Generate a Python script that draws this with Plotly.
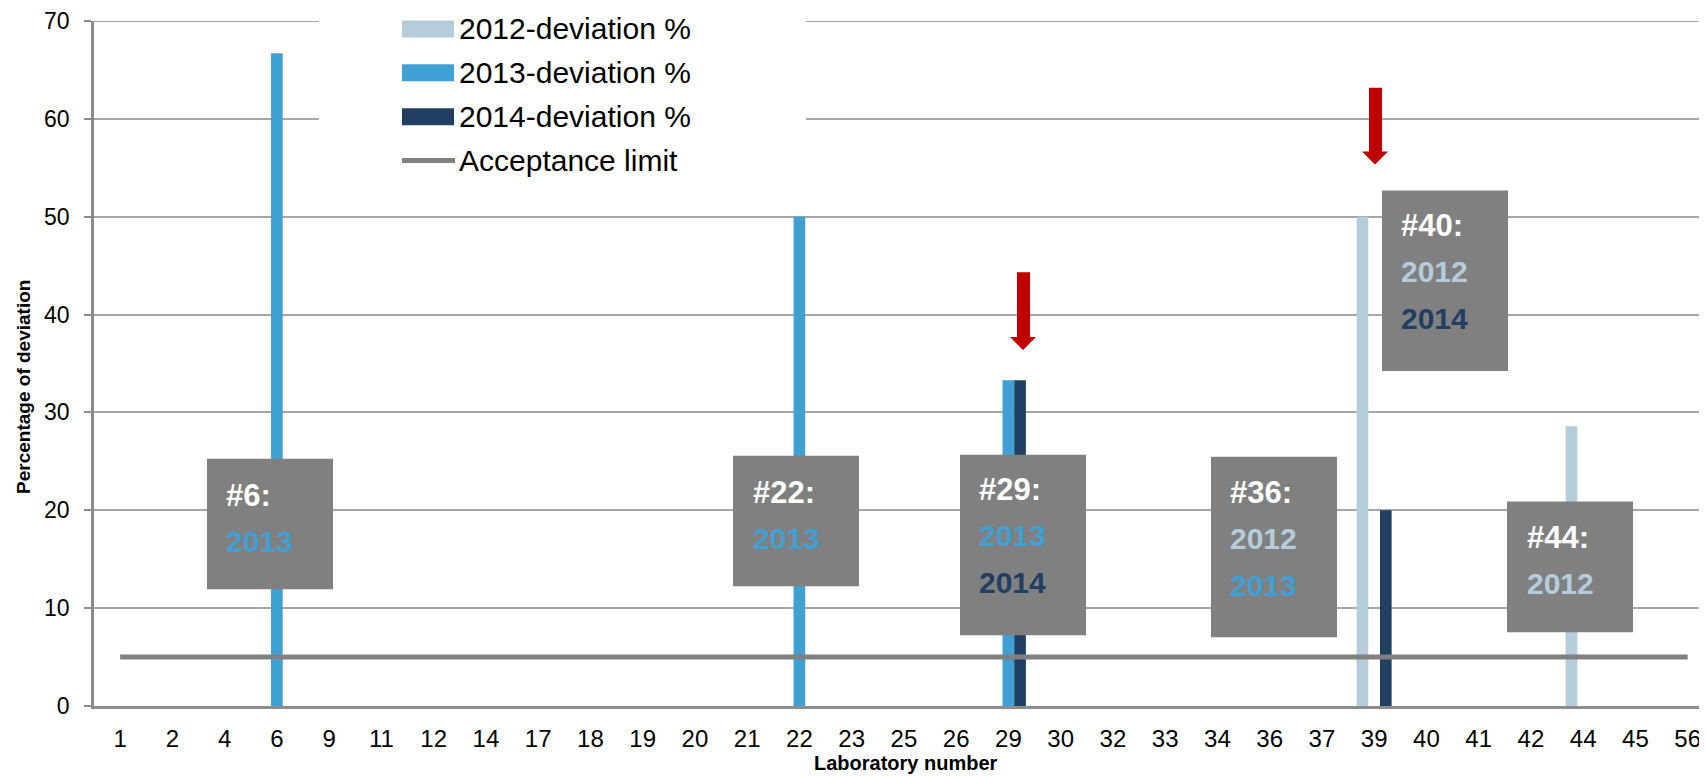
import plotly.graph_objects as go

# ---------------- data ----------------
labs = ["1", "2", "4", "6", "9", "11", "12", "14", "17", "18", "19", "20", "21", "22",
        "23", "25", "26", "29", "30", "32", "33", "34", "36", "37", "39", "40", "41",
        "42", "44", "45", "56"]
dev_2012 = [0, 0, 0, 0, 0, 0, 0, 0, 0, 0, 0, 0, 0, 0, 0, 0, 0, 0, 0, 0, 0, 0, 0, 0,
            50, 0, 0, 0, 28.6, 0, 0]
dev_2013 = [0, 0, 0, 66.7, 0, 0, 0, 0, 0, 0, 0, 0, 0, 50, 0, 0, 0, 33.3, 0, 0, 0, 0,
            0, 0, 0, 0, 0, 0, 0, 0, 0]
dev_2014 = [0, 0, 0, 0, 0, 0, 0, 0, 0, 0, 0, 0, 0, 0, 0, 0, 0, 33.3, 0, 0, 0, 0, 0,
            0, 20, 0, 0, 0, 0, 0, 0]
acceptance_limit = [5] * len(labs)

series_names = ["2012-deviation %", "2013-deviation %", "2014-deviation %", "Acceptance limit"]
y_ticks = [0, 10, 20, 30, 40, 50, 60, 70]

# callout boxes: (title, [years])
callouts = [
    ("#6:", ["2013"]),
    ("#22:", ["2013"]),
    ("#29:", ["2013", "2014"]),
    ("#36:", ["2012", "2013"]),
    ("#40:", ["2012", "2014"]),
    ("#44:", ["2012"]),
]

# ---------------- styles ----------------
C2012 = "#B5CDDA"
C2013 = "#409FD3"
C2014 = "#213F63"
GREY = "#808080"
year_color = {"2012": C2012, "2013": C2013, "2014": C2014}
FONT = "Liberation Sans, Arial, sans-serif"

OFF = 8  # page body margin
W, H = 1707 - OFF, 776 - OFF
ML, MR, MT, MB = 94 - OFF, 0, 19 - OFF, 70
PW = W - ML - MR
PH = H - MT - MB


def px(x):
    return (x - OFF - ML) / PW


def py(y):
    return (H - MB - (y - OFF)) / PH


fig = go.Figure()
for vals, col, name in [(dev_2012, C2012, series_names[0]),
                        (dev_2013, C2013, series_names[1]),
                        (dev_2014, C2014, series_names[2])]:
    fig.add_trace(go.Bar(x=labs, y=vals, name=name, marker=dict(color=col, line=dict(width=0)),
                         showlegend=False))

fig.add_trace(go.Scatter(x=labs, y=acceptance_limit, mode="lines", name=series_names[3],
                         line=dict(color=GREY, width=5), showlegend=False))

shapes = []
annotations = []

# top gridline (at 70)
shapes.append(dict(type="line", xref="paper", yref="y", x0=0, x1=1, y0=y_ticks[-1], y1=y_ticks[-1],
                   line=dict(color="#A6A6A6", width=2), layer="below"))

# legend (manual) with white background
shapes.append(dict(type="rect", xref="paper", yref="paper", x0=px(319), x1=px(806),
                   y0=py(182), y1=py(OFF), fillcolor="white", line=dict(width=0), layer="above"))
rows = [27, 71, 115, 159]
for i, (col, name) in enumerate(zip([C2012, C2013, C2014], series_names[:3])):
    shapes.append(dict(type="rect", xref="paper", yref="paper", x0=px(402), x1=px(454),
                       y0=py(rows[i] + 8.5), y1=py(rows[i] - 8.5), fillcolor=col,
                       line=dict(width=0), layer="above"))
shapes.append(dict(type="line", xref="paper", yref="paper", x0=px(402), x1=px(455),
                   y0=py(rows[3]), y1=py(rows[3]), line=dict(color=GREY, width=5), layer="above"))
for i, name in enumerate(series_names):
    annotations.append(dict(xref="paper", yref="paper", x=px(457), y=py(rows[i]),
                            text=name, showarrow=False, xanchor="left", yanchor="middle",
                            font=dict(family=FONT, size=30, color="black")))

# callout boxes: (x0, x1, y0, y1, text_left, first_line_center)
box_geom = [
    (207, 333, 458, 589, 226, 495),
    (733, 859, 455, 586, 753, 492),
    (960, 1086, 454, 635, 979, 489),
    (1211, 1337, 456, 637, 1230, 492),
    (1382, 1508, 189, 370, 1401, 224),
    (1507, 1633, 501, 632, 1527, 537),
]
LINE_STEP = 46.5
for (title, years), (x0, x1, y0, y1, tx, ty) in zip(callouts, box_geom):
    shapes.append(dict(type="rect", xref="paper", yref="paper", x0=px(x0), x1=px(x1),
                       y0=py(y1), y1=py(y0), fillcolor=GREY, line=dict(width=0), layer="above"))
    annotations.append(dict(xref="paper", yref="paper", x=px(tx - 2), y=py(ty), text=title,
                            showarrow=False, xanchor="left", yanchor="middle",
                            font=dict(family=FONT, size=31, color="white", weight="bold")))
    for j, yr in enumerate(years):
        annotations.append(dict(xref="paper", yref="paper", x=px(tx - 2), y=py(ty + (j + 1) * LINE_STEP),
                                text=yr, showarrow=False, xanchor="left", yanchor="middle",
                                font=dict(family=FONT, size=30, color=year_color[yr], weight="bold")))

# red arrows
for (sx0, sx1, top, head_y, tip_y, hx0, hx1) in [(1017, 1030, 271, 336, 349, 1010, 1036),
                                                 (1369, 1382, 86, 150, 163, 1362, 1388)]:
    tipx = (hx0 + hx1) / 2
    path = (f"M {px(sx0)} {py(top)} L {px(sx1)} {py(top)} L {px(sx1)} {py(head_y)} "
            f"L {px(hx1)} {py(head_y)} L {px(tipx)} {py(tip_y)} L {px(hx0)} {py(head_y)} "
            f"L {px(sx0)} {py(head_y)} Z")
    shapes.append(dict(type="path", xref="paper", yref="paper", path=path,
                       fillcolor="#C00000", line=dict(width=0), layer="above"))

# axis titles
annotations.append(dict(xref="paper", yref="paper", x=px(906), y=py(763), text="Laboratory number",
                        showarrow=False, xanchor="center", yanchor="middle",
                        font=dict(family=FONT, size=20, color="black", weight="bold")))
annotations.append(dict(xref="paper", yref="paper", x=px(24), y=py(386), text="Percentage of deviation",
                        showarrow=False, xanchor="center", yanchor="middle", textangle=-90,
                        font=dict(family=FONT, size=19, color="black", weight="bold")))

span = PW / 52.25
fig.update_layout(
    width=W, height=H,
    margin=dict(l=ML, r=MR, t=MT, b=MB, pad=0),
    paper_bgcolor="white", plot_bgcolor="white",
    barmode="group", bargap=0.33, bargroupgap=0,
    shapes=shapes, annotations=annotations,
    showlegend=False,
    xaxis=dict(type="category", categoryorder="array", categoryarray=labs,
               range=[-0.5, -0.5 + span], tickmode="linear", dtick=1,
               showline=True, linecolor="#8C8C8C", linewidth=2.5, showgrid=False,
               ticks="", ticklabelstandoff=9, zeroline=False, ticklabeloverflow="allow",
               tickfont=dict(family=FONT, size=24, color="black")),
    yaxis=dict(range=[0, 70], tickvals=y_ticks, showline=True, linecolor="#8C8C8C", linewidth=2.5,
               showgrid=True, gridcolor="#A6A6A6", gridwidth=2, zeroline=False,
               ticks="outside", ticklen=7, tickcolor="#8C8C8C", tickwidth=2,
               ticklabelstandoff=10, ticklabeloverflow="allow",
               tickfont=dict(family=FONT, size=23, color="black")),
)

fig.write_html("out.html")
